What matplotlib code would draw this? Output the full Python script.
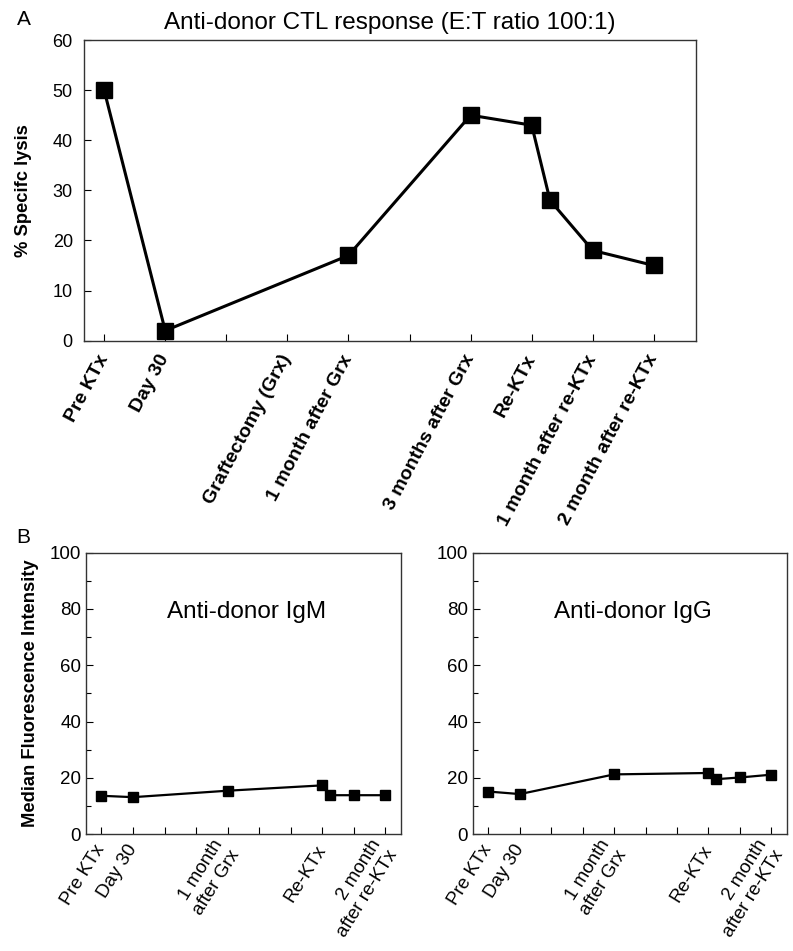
import numpy as np
import matplotlib
matplotlib.use('Agg')
import matplotlib.pyplot as plt
from matplotlib.ticker import MultipleLocator

plt.rcParams['font.family'] = ['Liberation Sans', 'DejaVu Sans']

# panel A: anti-donor CTL response
ctl_ticks = list(range(10))
ctl_labels = ['Pre KTx', 'Day 30', '', 'Graftectomy (Grx)', '1 month after Grx', '',
              '3 months after Grx', 'Re-KTx', '1 month after re-KTx', '2 month after re-KTx']
ctl_x = [0, 1, 4, 6, 7, 7.3, 8, 9]
ctl_y = [50, 2, 17, 45, 43, 28, 18, 15]

# panel B: antibody MFI
b_ticks = list(range(10))
b_labels = ['Pre KTx', 'Day 30', '', '', '1 month\nafter Grx', '', '', 'Re-KTx', '',
            '2 month\nafter re-KTx']
igm_x = [0, 1, 4, 7, 7.25, 8, 9]
igm_y = [13.6, 13.1, 15.4, 17.3, 13.8, 13.8, 13.8]
igg_x = [0, 1, 4, 7, 7.25, 8, 9]
igg_y = [15.1, 14.2, 21.2, 21.7, 19.5, 20.1, 21.1]

fig = plt.figure(figsize=(7.93, 9.51), dpi=100)

# ---- panel A
axA = fig.add_axes([0.1059, 0.6418, 0.7718, 0.3161])
axA.plot(ctl_x, ctl_y, color='black', lw=2.2, marker='s', ms=12, mfc='black', mec='black')
axA.set_xlim(-0.33, 9.69)
axA.set_ylim(0, 60)
axA.set_yticks(range(0, 61, 10))
axA.set_xticks(ctl_ticks)
axA.set_xticklabels(ctl_labels, rotation=62, ha='right', va='center', rotation_mode='anchor',
                    fontweight='bold', fontsize=14)
axA.tick_params(axis='x', direction='in', length=5, pad=11, width=0.8)
axA.tick_params(axis='y', direction='in', length=5, labelsize=13, pad=8, width=0.8)
for s in axA.spines.values():
    s.set_linewidth(1.0)
    s.set_color('#333333')
axA.set_ylabel('% Specifc lysis', fontweight='bold', fontsize=13.2, labelpad=15)
axA.set_title('Anti-donor CTL response (E:T ratio 100:1)', fontsize=17.5, pad=8)
fig.text(0.030, 0.980, 'A', fontsize=15, ha='center', va='center')

# ---- panel B
def mfi_panel(rect, xs, ys, label):
    ax = fig.add_axes(rect)
    ax.plot(xs, ys, color='black', lw=1.6, marker='s', ms=7.5, mfc='black', mec='black')
    ax.set_xlim(-0.49, 9.49)
    ax.set_ylim(0, 100)
    ax.set_yticks(range(0, 101, 20))
    ax.yaxis.set_minor_locator(MultipleLocator(10))
    ax.set_xticks(b_ticks)
    ax.set_xticklabels(b_labels, rotation=58, ha='right', va='center',
                       rotation_mode='anchor', fontsize=13.5, multialignment='right')
    ax.tick_params(axis='x', which='major', direction='in', length=5, width=0.8, pad=9)
    ax.tick_params(axis='y', which='major', direction='in', length=5, labelsize=13.5, width=0.8)
    ax.tick_params(axis='y', which='minor', direction='in', length=3.5, width=0.8)
    for s in ax.spines.values():
        s.set_linewidth(1.0)
        s.set_color('#333333')
    ax.text(4.6, 79, label, fontsize=17.5, ha='center', va='center')
    return ax

axB1 = mfi_panel([0.1084, 0.1230, 0.3972, 0.2958], igm_x, igm_y, 'Anti-donor IgM')
axB2 = mfi_panel([0.5965, 0.1230, 0.3956, 0.2958], igg_x, igg_y, 'Anti-donor IgG')
axB1.set_ylabel('Median Fluorescence Intensity', fontweight='bold', fontsize=13.2, labelpad=8)
fig.text(0.029, 0.435, 'B', fontsize=15, ha='center', va='center')

fig.savefig('out.png', dpi=100)
